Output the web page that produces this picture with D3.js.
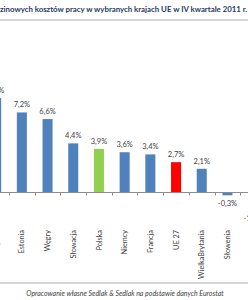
<!DOCTYPE html>
<html><head><meta charset="utf-8">
<script src="https://cdn.jsdelivr.net/npm/d3@7"></script>
<style>body{margin:0;background:#fff;}svg{display:block;}</style>
</head><body>
<script>
const categories = ["Bułgaria","Estonia","Węgry","Słowacja","Polska","Niemcy","Francja","UE 27","WielkaBrytania","Słowenia","Grecja"];
const values = [8.5,7.2,6.6,4.4,3.9,3.6,3.4,2.7,2.1,-0.3,-1.7];
const labels = ["8,5%","7,2%","6,6%","4,4%","3,9%","3,6%","3,4%","2,7%","2,1%","-0,3%","-1,7%"];
const colors = {"Polska":"#92D050","UE 27":"#FF0000"};
const titlePrefix = "Dynamika god";
const titleMain = "zinowych kosztów pracy w wybranych krajach UE w IV kwartale 2011 r";
const titleSuffix = ".";
const source = "Opracowanie własne Sedlak & Sedlak na podstawie danych Eurostat";

const W=248,H=300;
const svg=d3.select("body").append("svg").attr("width",W).attr("height",H);

// title
const tfont='Lato, "Open Sans", sans-serif';
const tmp=svg.append("text").attr("font-family",tfont).attr("font-weight","bold").attr("font-size",10).text(titleMain);
const wMain=tmp.node().getComputedTextLength();
const fs=10*246/wMain;
tmp.attr("font-size",fs).text(titlePrefix);
const wPre=tmp.node().getComputedTextLength();
tmp.remove();
svg.append("text").attr("x",-wPre).attr("y",12).attr("font-family",tfont).attr("font-weight","bold")
  .attr("font-size",fs).attr("fill","#1F3864").text(titlePrefix+titleMain+titleSuffix);

svg.append("line").attr("x1",0).attr("x2",W).attr("y1",20).attr("y2",20).attr("stroke","#C8C8C8").attr("stroke-width",1.5);
svg.append("line").attr("x1",0).attr("x2",W).attr("y1",283).attr("y2",283).attr("stroke","#C8C8C8").attr("stroke-width",1.5);

const x=d3.scaleBand().domain(categories).range([-16.7,-16.7+25.7*11]).paddingInner(0.61).paddingOuter(0.305);
const y=d3.scaleLinear().domain([-2,10]).range([192+2*11.05,192-10*11.05]);

svg.selectAll("rect.bar").data(categories).join("rect").attr("class","bar")
  .attr("x",d=>x(d)).attr("width",x.bandwidth())
  .attr("y",(d,i)=>y(Math.max(0,values[i])))
  .attr("height",(d,i)=>Math.abs(y(values[i])-y(0)))
  .attr("fill",d=>colors[d]||"#4F81BD");

// axis line
const y0=Math.round(y(0))+0.5;
svg.append("line").attr("x1",0).attr("x2",W).attr("y1",y0).attr("y2",y0).attr("stroke","#8C8C8C").attr("stroke-width",1);
const step=x.step();
const bounds=categories.map(d=>x(d)-(step-x.bandwidth())/2);
svg.selectAll("line.tick").data(bounds).join("line").attr("class","tick")
  .attr("x1",d=>Math.round(d)+0.5).attr("x2",d=>Math.round(d)+0.5).attr("y1",y0).attr("y2",y0+3)
  .attr("stroke","#8C8C8C");

const lfont='Lato, "Open Sans", sans-serif';
svg.selectAll("text.val").data(categories).join("text").attr("class","val")
  .attr("x",d=>x(d)+x.bandwidth()/2)
  .attr("y",(d,i)=>values[i]>=0? y(values[i])-5 : y(values[i])+10.5)
  .attr("text-anchor","middle").attr("font-family",lfont).attr("font-size",7.5).attr("fill","#404040")
  .text((d,i)=>labels[i]);

svg.selectAll("text.cat").data(categories).join("text").attr("class","cat")
  .attr("transform",d=>`translate(${x(d)+x.bandwidth()/2},230) rotate(-90)`)
  .attr("dy","0.35em").attr("text-anchor","end").attr("font-family",lfont).attr("font-size",7.3).attr("fill","#404040")
  .text(d=>d);

svg.append("text").attr("x",125).attr("y",295.5).attr("text-anchor","middle").attr("font-family",lfont)
  .attr("font-style","italic").attr("font-size",7).attr("fill","#404040").text(source);
</script>
</body></html>
